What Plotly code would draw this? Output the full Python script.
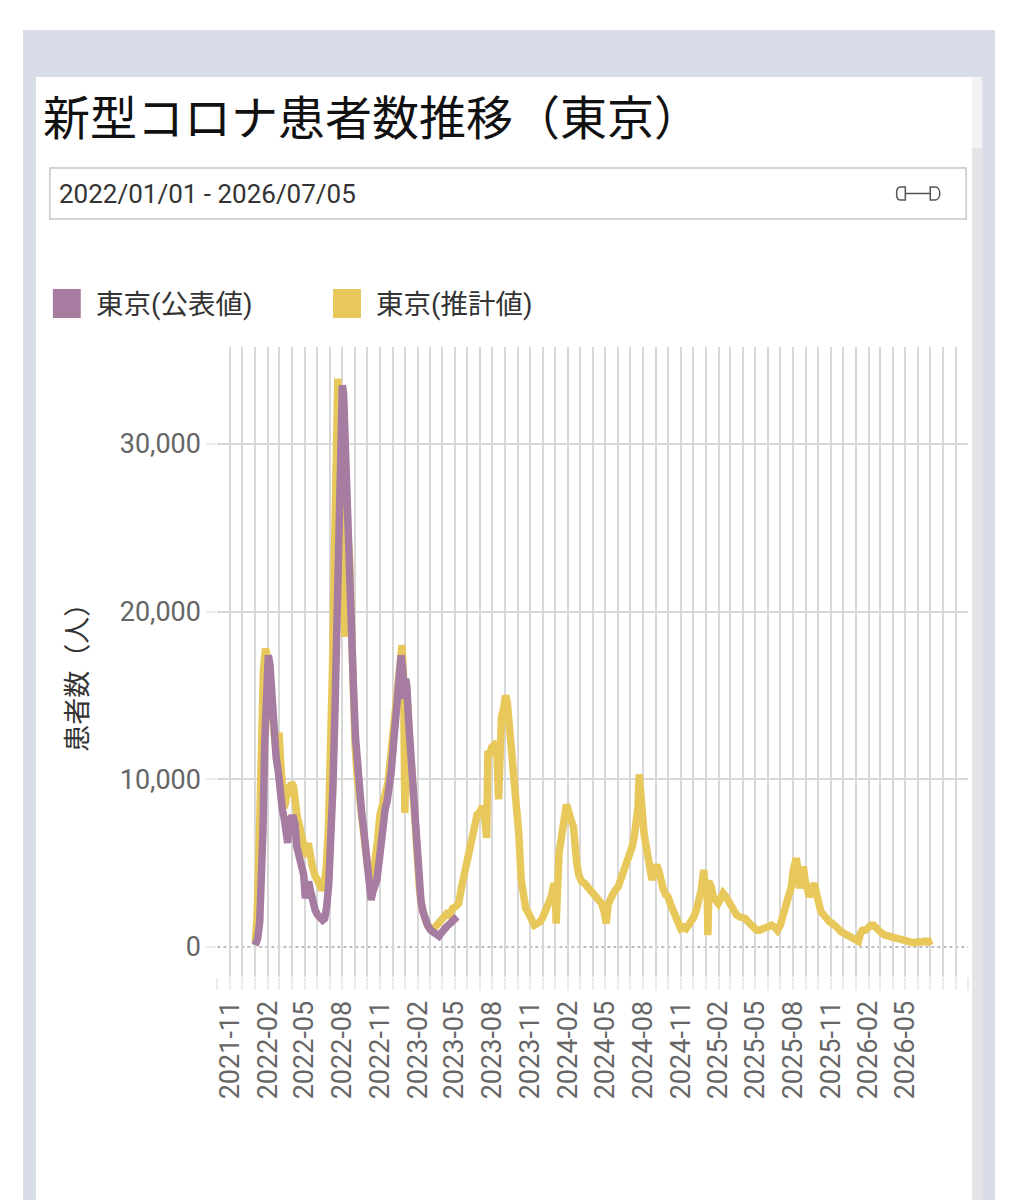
import plotly.graph_objects as go

W, H = 1014, 1200

# ---------------- data ----------------
official_dates = [
    "2022-01-01", "2022-01-07", "2022-01-12", "2022-01-16", "2022-01-20", "2022-01-24", "2022-01-28",
    "2022-02-02", "2022-02-06", "2022-02-10", "2022-02-14", "2022-02-17", "2022-02-21", "2022-02-26",
    "2022-03-03", "2022-03-08", "2022-03-13", "2022-03-18", "2022-03-21", "2022-03-24", "2022-03-29",
    "2022-04-04", "2022-04-08", "2022-04-12", "2022-04-18", "2022-04-24", "2022-04-29",
    "2022-05-03", "2022-05-07", "2022-05-11", "2022-05-16", "2022-05-21", "2022-05-27",
    "2022-06-02", "2022-06-08", "2022-06-14", "2022-06-19", "2022-06-24", "2022-06-29",
    "2022-07-04", "2022-07-09", "2022-07-14", "2022-07-19", "2022-07-24", "2022-07-28",
    "2022-08-01", "2022-08-04", "2022-08-07", "2022-08-10", "2022-08-13", "2022-08-17", "2022-08-20",
    "2022-08-24", "2022-08-28", "2022-09-02", "2022-09-07", "2022-09-12", "2022-09-17", "2022-09-22",
    "2022-09-27", "2022-10-02", "2022-10-06", "2022-10-10", "2022-10-14", "2022-10-19", "2022-10-24",
    "2022-10-29", "2022-11-03", "2022-11-08", "2022-11-13", "2022-11-18", "2022-11-23", "2022-11-28",
    "2022-12-03", "2022-12-08", "2022-12-13", "2022-12-18", "2022-12-22", "2022-12-26", "2022-12-29",
    "2023-01-02", "2023-01-05", "2023-01-09", "2023-01-14", "2023-01-19", "2023-01-24", "2023-01-29",
    "2023-02-03", "2023-02-08", "2023-02-13", "2023-02-19", "2023-02-25", "2023-03-04", "2023-03-11",
    "2023-03-18", "2023-03-24", "2023-03-30", "2023-04-06", "2023-04-13", "2023-04-20", "2023-04-27",
    "2023-05-03", "2023-05-07",
]
official_values = [
    100, 500, 1500, 3500, 7000, 12000, 15800,
    17400, 16800, 15000, 13500, 12000, 11300, 10500,
    9000, 8200, 7600, 7000, 6200, 7500, 7700,
    7700, 7300, 6000, 5300, 4900, 4300,
    2900, 3500, 3900, 3300, 2700, 2200,
    1900, 1700, 1600, 1700, 2400, 3800,
    5800, 9500, 14000, 20500, 27500, 31800,
    33500, 33000, 30500, 27800, 26200, 25500, 23000,
    19500, 15500, 12500, 10500, 9200, 8000, 7000,
    5800, 4300, 3200, 2800, 3300, 3600, 4000,
    5000, 6200, 7500, 8200, 8700, 9500, 10500,
    12000, 13800, 15000, 16600, 17400, 16500, 14800,
    16000, 15500, 13500, 11500, 9500, 7800, 5800,
    4000, 2800, 2100, 1600, 1250, 1000, 850,
    700, 650, 850, 1100, 1250, 1400, 1550,
    1750, 1800,
]

estimated_dates = [
    "2022-01-01", "2022-01-05", "2022-01-09", "2022-01-13", "2022-01-17", "2022-01-21", "2022-01-26",
    "2022-01-31", "2022-02-05", "2022-02-10", "2022-02-15", "2022-02-20", "2022-02-24", "2022-02-28",
    "2022-03-04", "2022-03-08", "2022-03-12", "2022-03-16", "2022-03-20", "2022-03-25", "2022-03-30",
    "2022-04-04", "2022-04-08", "2022-04-13", "2022-04-19", "2022-04-25", "2022-04-30",
    "2022-05-05", "2022-05-10", "2022-05-15", "2022-05-20", "2022-05-26",
    "2022-06-01", "2022-06-07", "2022-06-13", "2022-06-18", "2022-06-23", "2022-06-28",
    "2022-07-03", "2022-07-08", "2022-07-12", "2022-07-16", "2022-07-21", "2022-07-25", "2022-07-29",
    "2022-08-03", "2022-08-07", "2022-08-10", "2022-08-14", "2022-08-18", "2022-08-22", "2022-08-27",
    "2022-09-01", "2022-09-06", "2022-09-11", "2022-09-16", "2022-09-21", "2022-09-26",
    "2022-10-01", "2022-10-06", "2022-10-11", "2022-10-16", "2022-10-21", "2022-10-26", "2022-10-31",
    "2022-11-05", "2022-11-10", "2022-11-15", "2022-11-20", "2022-11-25", "2022-11-30",
    "2022-12-05", "2022-12-10", "2022-12-15", "2022-12-20", "2022-12-24", "2022-12-28", "2022-12-31",
    "2023-01-03", "2023-01-07", "2023-01-11", "2023-01-16", "2023-01-21", "2023-01-26", "2023-01-31",
    "2023-02-05", "2023-02-10", "2023-02-16", "2023-02-22", "2023-03-01", "2023-03-08", "2023-03-15",
    "2023-03-22", "2023-03-29", "2023-04-05", "2023-04-12", "2023-04-19", "2023-04-26",
    "2023-05-03", "2023-05-11", "2023-05-18", "2023-05-25", "2023-06-04", "2023-06-11", "2023-06-18",
    "2023-06-25", "2023-07-01", "2023-07-08", "2023-07-14", "2023-07-18", "2023-07-21", "2023-07-26",
    "2023-07-30", "2023-08-05", "2023-08-11", "2023-08-16", "2023-08-19", "2023-08-23", "2023-08-28",
    "2023-09-02", "2023-09-06", "2023-09-10", "2023-09-16", "2023-09-21", "2023-09-28",
    "2023-10-04", "2023-10-10", "2023-10-15", "2023-10-21", "2023-10-28", "2023-11-04", "2023-11-11",
    "2023-11-18", "2023-11-25", "2023-12-02", "2023-12-10", "2023-12-16", "2023-12-22", "2023-12-29",
    "2024-01-01", "2024-01-03", "2024-01-06", "2024-01-10", "2024-01-15", "2024-01-20", "2024-01-24",
    "2024-01-28", "2024-02-01", "2024-02-05", "2024-02-09", "2024-02-14", "2024-02-17", "2024-02-22",
    "2024-02-27", "2024-03-05", "2024-03-12", "2024-03-19", "2024-03-26", "2024-04-02", "2024-04-09",
    "2024-04-16", "2024-04-22", "2024-04-28", "2024-05-04", "2024-05-08", "2024-05-12", "2024-05-19",
    "2024-05-26", "2024-06-02", "2024-06-09", "2024-06-17", "2024-06-24", "2024-06-30", "2024-07-06",
    "2024-07-11", "2024-07-16", "2024-07-20", "2024-07-23", "2024-07-27", "2024-07-31", "2024-08-04",
    "2024-08-09", "2024-08-14", "2024-08-19", "2024-08-23", "2024-08-29", "2024-09-04", "2024-09-08",
    "2024-09-14", "2024-09-20", "2024-09-26", "2024-10-01", "2024-10-08", "2024-10-16", "2024-10-24",
    "2024-11-01", "2024-11-08", "2024-11-14", "2024-11-20", "2024-11-27", "2024-12-03", "2024-12-10",
    "2024-12-16", "2024-12-21", "2024-12-27", "2024-12-30", "2025-01-04", "2025-01-06", "2025-01-09",
    "2025-01-14", "2025-01-19", "2025-01-25", "2025-01-31", "2025-02-06", "2025-02-12", "2025-02-19",
    "2025-02-25", "2025-03-03", "2025-03-10", "2025-03-17", "2025-03-24", "2025-03-31", "2025-04-07",
    "2025-04-14", "2025-04-21", "2025-04-28", "2025-05-05", "2025-05-12", "2025-05-19", "2025-05-27",
    "2025-06-03", "2025-06-10", "2025-06-17", "2025-06-24", "2025-07-01", "2025-07-08", "2025-07-15",
    "2025-07-22", "2025-07-28", "2025-08-02", "2025-08-06", "2025-08-09", "2025-08-13", "2025-08-17",
    "2025-08-21", "2025-08-26", "2025-08-31", "2025-09-05", "2025-09-10", "2025-09-16", "2025-09-22",
    "2025-09-27", "2025-10-02", "2025-10-08", "2025-10-15", "2025-10-22", "2025-10-29", "2025-11-05",
    "2025-11-12", "2025-11-19", "2025-11-26", "2025-12-03", "2025-12-10", "2025-12-17", "2025-12-24",
    "2025-12-31", "2026-01-07", "2026-01-12", "2026-01-17", "2026-01-24", "2026-01-31", "2026-02-07",
    "2026-02-13", "2026-02-20", "2026-02-27", "2026-03-06", "2026-03-13", "2026-03-20", "2026-03-27",
    "2026-04-03", "2026-04-10", "2026-04-17", "2026-04-24", "2026-05-01", "2026-05-08", "2026-05-15",
    "2026-05-22", "2026-05-29", "2026-06-05", "2026-06-12", "2026-06-19", "2026-06-26", "2026-07-05",
]
estimated_values = [
    300, 1500, 4500, 9000, 13500, 16500, 17800,
    17200, 15500, 14000, 12800, 11800, 11200, 12800,
    11000, 9200, 8300, 8600, 9700, 9000, 9800,
    9600, 8500, 7800, 7200, 6400, 6000,
    5400, 6200, 5300, 4800, 4300,
    3900, 3600, 3400, 3700, 4800, 7000,
    11000, 16500, 22500, 29000, 33900, 31500, 28000,
    22000, 18500, 22000, 24500, 23500, 19500, 15000,
    12000, 10200, 9000, 8000, 7000, 5900,
    4800, 4200, 4000, 4500, 5200, 6400, 7800,
    8500, 8900, 9300, 9800, 11000, 12500,
    14000, 15200, 16300, 17500, 18000, 16000, 8000,
    13000, 14500, 12500, 10500, 8500, 6500, 4600,
    3300, 2400, 1800, 1400, 1200, 1100, 1200,
    1400, 1500, 1800, 2000, 1900, 2300,
    2400, 2600, 3600, 4400, 5200, 6200, 7200,
    7900, 8000, 8400, 7500, 6500, 11700, 11400,
    11900, 12000, 12200, 8800, 13000, 13700, 14200,
    15000, 14600, 13500, 12400, 11500, 9400,
    6800, 4000, 2800, 2300, 2000, 1600, 1300,
    1400, 1500, 1800, 2200, 2600, 3000, 3800,
    3600, 1400, 4500, 5600, 6400, 7000, 8000,
    8500, 8200, 7700, 7500, 7200, 5800, 5000,
    4300, 3900, 3800, 3600, 3400, 3200, 3000,
    2800, 2600, 2200, 1400, 2500, 2800, 3100,
    3400, 3600, 4100, 4600, 5100, 5500, 6000,
    6600, 7400, 8300, 10300, 8800, 7600, 6700,
    6000, 5300, 4300, 4000, 4500, 4900, 4600,
    3800, 3400, 3100, 3000, 2500, 2100, 1600,
    1100, 1200, 1100, 1300, 1500, 1800, 2300,
    2900, 3400, 4600, 3500, 4000, 700, 3900,
    3600, 3000, 2800, 2600, 2900, 3200, 3000,
    2700, 2400, 2100, 1900, 1800, 1800, 1700,
    1500, 1300, 1100, 1000, 1000, 1100, 1200,
    1200, 1300, 1200, 1000, 1300, 2000, 2600,
    3100, 3600, 4600, 5000, 5300, 4600, 3500,
    4200, 4800, 3900, 3200, 3000, 3400, 3800,
    3200, 2500, 2100, 1900, 1600, 1500, 1400,
    1300, 1100, 900, 800, 800, 650, 600,
    500, 350, 800, 1000, 1000, 1200, 1300,
    1300, 1100, 900, 800, 700, 650, 600,
    550, 500, 400, 400, 350, 300, 250,
    250, 300, 250, 300, 350, 300, 400,
]

tick_dates = ["2021-11-01", "2022-02-01", "2022-05-01", "2022-08-01", "2022-11-01",
              "2023-02-01", "2023-05-01", "2023-08-01", "2023-11-01", "2024-02-01",
              "2024-05-01", "2024-08-01", "2024-11-01", "2025-02-01", "2025-05-01",
              "2025-08-01", "2025-11-01", "2026-02-01", "2026-05-01"]
tick_labels = ["2021-11", "2022-02", "2022-05", "2022-08", "2022-11",
               "2023-02", "2023-05", "2023-08", "2023-11", "2024-02",
               "2024-05", "2024-08", "2024-11", "2025-02", "2025-05",
               "2025-08", "2025-11", "2026-02", "2026-05"]
y_ticks = [0, 10000, 20000, 30000]
y_tick_labels = ["0", "10,000", "20,000", "30,000"]

series_names = ["東京(公表値)", "東京(推計値)"]
title_text = "新型コロナ患者数推移（東京）"
date_range_text = "2022/01/01 - 2026/07/05"
y_title = "患者数（人）"

# ---------------- styling ----------------
PURPLE = "#a67ca0"
YELLOW = "#e8c85b"
GRID = "#d8d8d8"
LATIN = "Roboto, 'Noto Sans CJK JP', sans-serif"
CJK = "'Noto Sans CJK JP', sans-serif"


def fx(x):
    return x / W


def fy(y):
    return 1 - y / H


def rect(x0, y0, x1, y1, fill, line=None, lw=0, layer="below"):
    d = dict(type="rect", xref="paper", yref="paper",
             x0=fx(x0), x1=fx(x1), y0=fy(y1), y1=fy(y0),
             fillcolor=fill, layer=layer)
    d["line"] = dict(color=line or fill, width=lw)
    return d


def path(points, close=True, color="#555", lw=1.5):
    s = ""
    for cmd, pts in points:
        s += cmd + " " + " ".join(f"{fx(px):.5f},{fy(py):.5f}" for px, py in pts) + " "
    if close:
        s += "Z"
    return dict(type="path", xref="paper", yref="paper", path=s,
                line=dict(color=color, width=lw), layer="above")


fig = go.Figure()
fig.add_trace(go.Scatter(x=estimated_dates, y=estimated_values, mode="lines",
                         name=series_names[1], line=dict(color=YELLOW, width=7.5),
                         showlegend=False, hoverinfo="skip"))
fig.add_trace(go.Scatter(x=official_dates, y=official_values, mode="lines",
                         name=series_names[0], line=dict(color=PURPLE, width=7.5),
                         showlegend=False, hoverinfo="skip"))

shapes = [
    rect(20, 30, 995, 1200, "#d9dde7"),
    rect(33, 77, 982, 1200, "#ffffff"),
    rect(972, 77, 982, 148, "#f3f3f5"),
    rect(972, 148, 982, 1200, "#e4e4e8"),
    # date input box
    rect(47, 168, 966, 219, "#ffffff", line="#c6c6c6", lw=1.5),
    # legend swatches
    rect(50, 289, 78, 318, PURPLE),
    rect(331, 289, 359, 318, YELLOW),
    # dotted zero line
    dict(type="line", xref="paper", yref="y", x0=fx(215), x1=fx(968), y0=0, y1=0,
         line=dict(color="#bdbdbd", width=2, dash="dot"), layer="between"),
]
# slider icon
shapes.append(path([("M", [(905, 187)]), ("L", [(900, 187)]),
                    ("C", [(895, 187), (895, 200), (900, 200)]), ("L", [(905, 200)])]))
shapes.append(dict(type="line", xref="paper", yref="paper", x0=fx(905), x1=fx(930),
                   y0=fy(193.5), y1=fy(193.5), line=dict(color="#555", width=1.5)))
shapes.append(path([("M", [(930, 187)]), ("L", [(935, 187)]),
                    ("C", [(941, 187), (941, 200), (935, 200)]), ("L", [(930, 200)])]))

annotations = [
    dict(text=title_text, x=fx(38), y=fy(115), xanchor="left", yanchor="middle",
         font=dict(family=CJK, size=47, color="#111")),
    dict(text=date_range_text, x=fx(54), y=fy(194), xanchor="left", yanchor="middle",
         font=dict(family=LATIN, size=26, color="#333")),
    dict(text=series_names[0], x=fx(91), y=fy(304), xanchor="left", yanchor="middle",
         font=dict(family=LATIN, size=27.5, color="#333")),
    dict(text=series_names[1], x=fx(372), y=fy(304), xanchor="left", yanchor="middle",
         font=dict(family=LATIN, size=27.5, color="#333")),
    dict(text=y_title, x=fx(72), y=fy(671), xanchor="center", yanchor="middle",
         textangle=-90, font=dict(family=CJK, size=27, color="#333")),
]
for a in annotations:
    a.update(xref="paper", yref="paper", showarrow=False)

fig.update_layout(
    width=W, height=H,
    margin=dict(l=0, r=0, t=0, b=0),
    paper_bgcolor="#ffffff", plot_bgcolor="rgba(0,0,0,0)",
    shapes=shapes, annotations=annotations,
    showlegend=False,
    font=dict(family=LATIN, color="#666"),
    xaxis=dict(
        type="date", range=["2021-10-01", "2026-10-01"],
        domain=[fx(215), fx(968)], anchor="y",
        tickmode="array", tickvals=tick_dates, ticktext=tick_labels,
        tickangle=-90, tickfont=dict(family=LATIN, size=27, color="#666"),
        ticks="outside", ticklen=12, tickwidth=2, tickcolor="#ececec",
        showgrid=True, gridcolor=GRID, gridwidth=2,
        minor=dict(dtick="M1", tick0="2021-10-01", showgrid=True, gridcolor=GRID,
                   gridwidth=2, ticks="outside", ticklen=12, tickwidth=2, tickcolor="#ececec"),
        showline=False, zeroline=False, fixedrange=True,
    ),
    yaxis=dict(
        range=[-1790, 35784], domain=[fy(977), fy(347)], anchor="x",
        tickmode="array", tickvals=y_ticks, ticktext=y_tick_labels,
        tickfont=dict(family=LATIN, size=27, color="#666"),
        ticks="outside", ticklen=10, tickwidth=2, tickcolor="#ececec",
        showgrid=False,
        minor=dict(tickmode="array", tickvals=y_ticks[1:], showgrid=True,
                   gridcolor=GRID, gridwidth=2, ticks=""),
        showline=False, zeroline=False, fixedrange=True,
    ),
)

fig.write_html("out.html", config={"displayModeBar": False})
